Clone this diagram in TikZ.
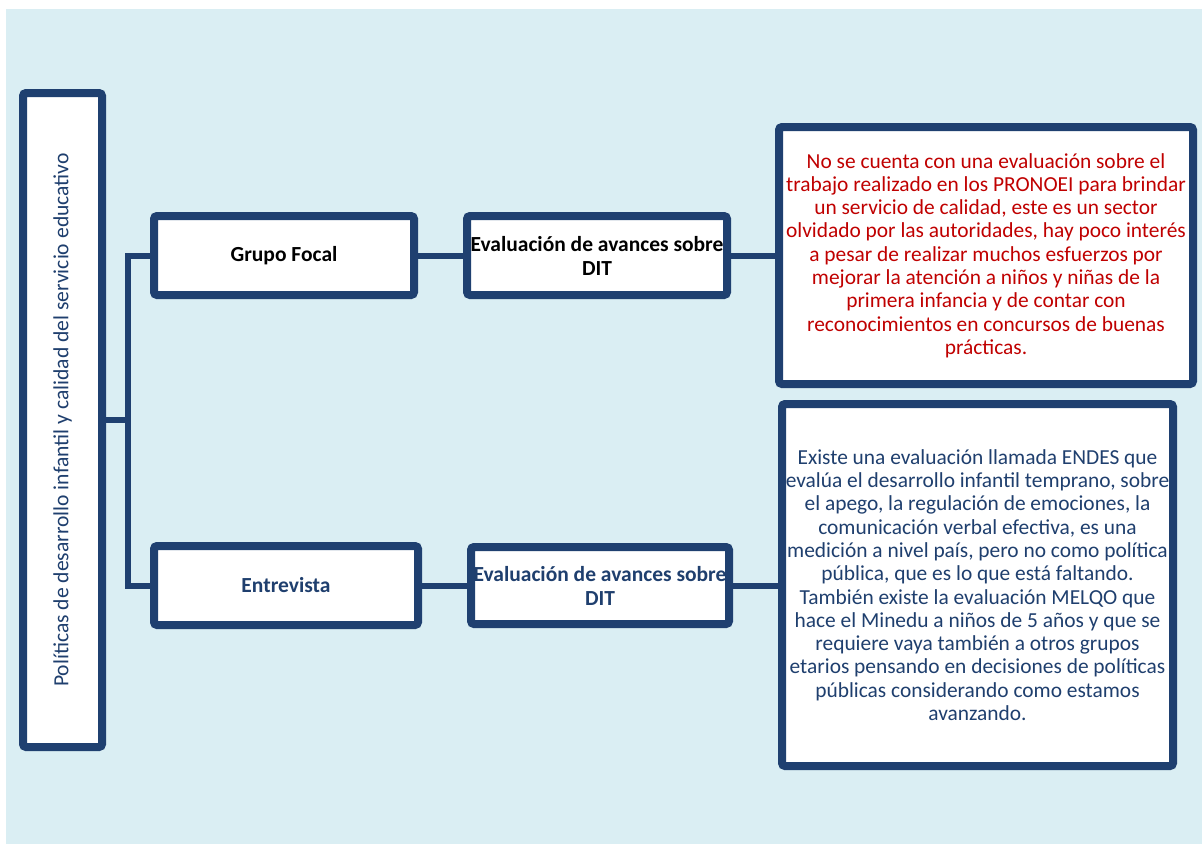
\documentclass[tikz,border=0pt]{standalone}
\usepackage{fontspec}
\setmainfont{Carlito}
\usetikzlibrary{shadows}
\definecolor{bgblue}{HTML}{DAEEF3}
\definecolor{navy}{HTML}{1F4070}
\definecolor{txtblue}{HTML}{1F3F6E}
\definecolor{txtred}{HTML}{C00000}
\begin{document}
\begin{tikzpicture}[x=1pt,y=-1pt,
  box/.style={draw=navy, line width=8pt, fill=white, rounded corners=3pt,
    inner sep=0pt, align=center,
    drop shadow={opacity=0.22, shadow xshift=2pt, shadow yshift=-3pt}},
  conn/.style={draw=navy, line width=6pt, line join=miter},
  bodyfont/.style={font=\fontsize{21.4}{23.3}\selectfont},
  boldfont/.style={font=\fontsize{21.5}{24}\selectfont\bfseries}
]
\useasboundingbox (0,0) rectangle (1202,844);
\fill[white] (0,0) rectangle (1202,844);
\fill[bgblue] (6,9) rectangle (1202,844);

% left tall box
\node[box, minimum width=79pt, minimum height=654pt] (main) at (62.5,420) {};
\node[rotate=90, text=txtblue, font=\fontsize{21.6}{24}\selectfont, inner sep=0pt] (maintext) at (main.center)
  {Políticas de desarrollo infantil y calidad del servicio educativo};

% second column
\node[box, minimum width=260pt, minimum height=79pt, text=black, boldfont] (gf) at (284,255.5) {Grupo Focal};
\node[box, minimum width=264pt, minimum height=79pt, text=txtblue, boldfont] (ent) at (286,585.5) {Entrevista};

% third column
\node[box, minimum width=260pt, minimum height=79pt, text=black, boldfont] (ev1) at (597,255.5)
  {Evaluación de avances sobre\\DIT};
\node[box, minimum width=258pt, minimum height=77pt, text=txtblue, boldfont] (ev2) at (600,585.5)
  {Evaluación de avances sobre\\DIT};

% fourth column
\node[box, minimum width=414pt, minimum height=257pt, text=txtred, bodyfont] (red) at (986,255.5)
  {No se cuenta con una evaluación sobre el\\
   trabajo realizado en los PRONOEI para brindar\\
   un servicio de calidad, este es un sector\\
   olvidado por las autoridades, hay poco interés\\
   a pesar de realizar muchos esfuerzos por\\
   mejorar la atención a niños y niñas de la\\
   primera infancia y de contar con\\
   reconocimientos en concursos de buenas\\
   prácticas.};
\node[box, minimum width=391pt, minimum height=362pt, text=txtblue, bodyfont] (blue) at (977.5,585)
  {Existe una evaluación llamada ENDES que\\
   evalúa el desarrollo infantil temprano, sobre\\
   el apego, la regulación de emociones, la\\
   comunicación verbal efectiva, es una\\
   medición a nivel país, pero no como política\\
   pública, que es lo que está faltando.\\
   También existe la evaluación MELQO que\\
   hace el Minedu a niños de 5 años y que se\\
   requiere vaya también a otros grupos\\
   etarios pensando en decisiones de políticas\\
   públicas considerando como estamos\\
   avanzando.};

% connectors
\coordinate (j) at (128,420);
\draw[conn] (main.east) -- (j);
\draw[conn] (gf.west) -| (j);
\draw[conn] (ent.west) -| (j);
\draw[conn] (gf.east) -- (ev1.west);
\draw[conn] (ent.east) -- (ev2.west);
\draw[conn] (ev1.east) -- (red.west |- ev1.east);
\draw[conn] (ev2.east) -- (blue.west |- ev2.east);
\end{tikzpicture}
\end{document}
